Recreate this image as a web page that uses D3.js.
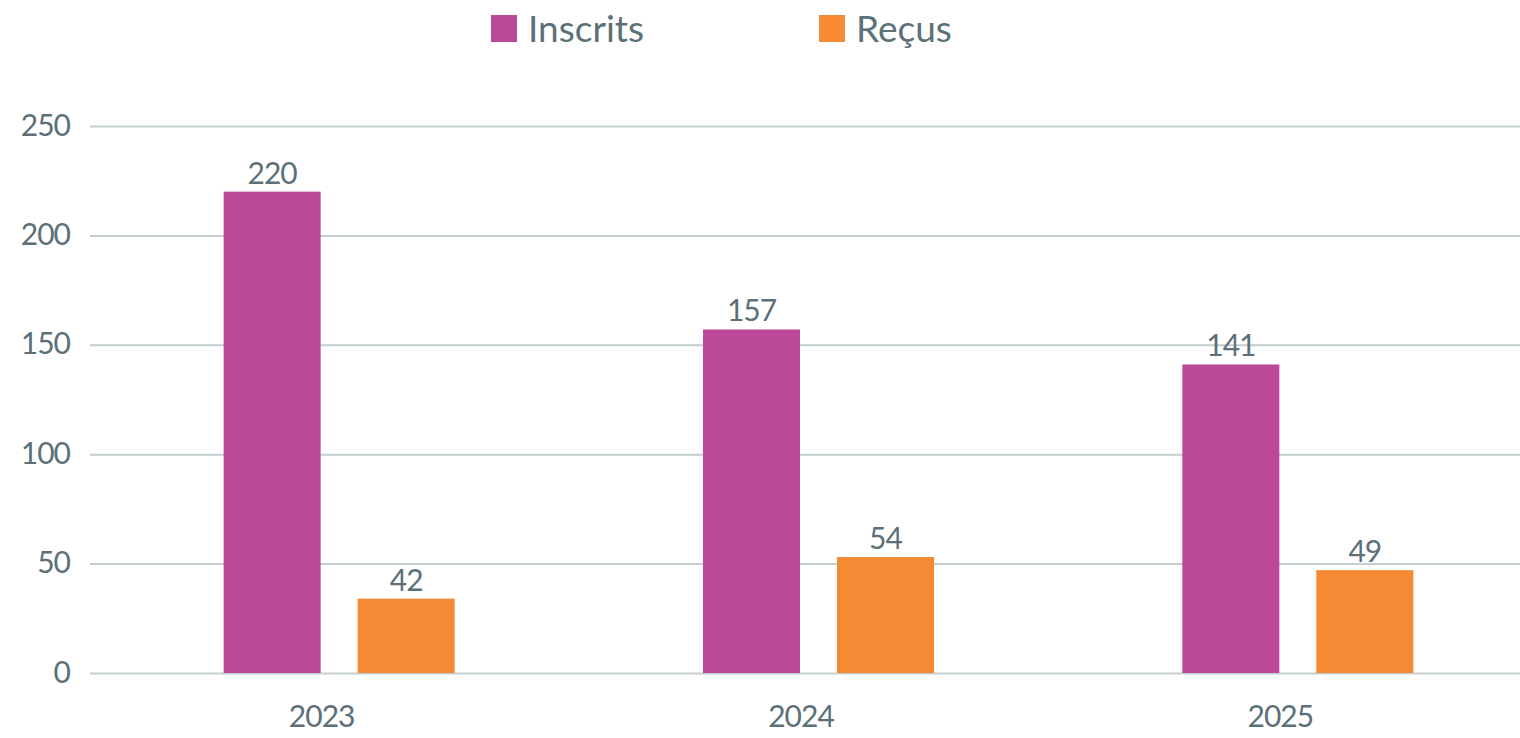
<!DOCTYPE html>
<html>
<head>
<meta charset="utf-8">
<script src="https://cdn.jsdelivr.net/npm/d3@7"></script>
<style>
  body { margin: 0; background: #fff; }
  svg { display: block; font-family: Lato, "Open Sans", sans-serif; }
</style>
</head>
<body>
<svg width="1520" height="738"></svg>
<script>
// data
const years = ["2023", "2024", "2025"];
const series = ["Inscrits", "Reçus"];
const inscrits = [220, 157, 141];
const recus = [34, 53, 47]; // bar heights as drawn
const inscritsLabels = ["220", "157", "141"];
const recusLabels = ["42", "54", "49"];
const yTicks = [0, 50, 100, 150, 200, 250];

const colors = { "Inscrits": "#bb4899", "Reçus": "#f48a33" };
const textColor = "#5b7078";
const gridColor = "#c4cdd0";

const svg = d3.select("svg");

// scales
const x0 = d3.scaleBand().domain(years).range([82, 1520]);
const x1 = d3.scaleBand().domain(series).range([-98, 133]).paddingInner(0.276);
const y = d3.scaleLinear().domain([0, 250]).range([673, 126]);

// gridlines + y labels
const yAxis = d3.axisLeft(y).tickValues(yTicks).tickSize(-1430).tickPadding(20);
svg.append("g")
  .attr("transform", "translate(90,0)")
  .call(yAxis)
  .call((g) => g.select(".domain").remove())
  .call((g) => g.selectAll("line").attr("stroke", gridColor).attr("stroke-width", 2))
  .call((g) => g.selectAll("text")
    .attr("fill", textColor)
    .style("font-size", "30px")
    .style("font-family", "Lato, sans-serif")
    .attr("letter-spacing", "-1")
    .attr("dy", "0.3em"));

// x labels
const xAxis = d3.axisBottom(x0).tickSize(0).tickPadding(33);
svg.append("g")
  .attr("transform", "translate(0,673)")
  .call(xAxis)
  .call((g) => g.select(".domain").remove())
  .call((g) => g.selectAll("text")
    .attr("fill", textColor)
    .style("font-size", "30px")
    .style("font-family", "Lato, sans-serif")
    .attr("letter-spacing", "-1"));

// bars
const rows = years.map((yr, i) => ({
  year: yr,
  values: [
    { key: "Inscrits", value: inscrits[i], label: inscritsLabels[i] },
    { key: "Reçus", value: recus[i], label: recusLabels[i] },
  ],
}));

const groups = svg.selectAll(".grp")
  .data(rows)
  .enter()
  .append("g")
  .attr("class", "grp")
  .attr("transform", (d) => "translate(" + (x0(d.year) + x0.bandwidth() / 2) + ",0)");

groups.selectAll("rect")
  .data((d) => d.values)
  .enter()
  .append("rect")
  .attr("x", (d) => x1(d.key))
  .attr("y", (d) => y(d.value))
  .attr("width", x1.bandwidth())
  .attr("height", (d) => y(0) - y(d.value))
  .attr("fill", (d) => colors[d.key]);

groups.selectAll(".lbl")
  .data((d) => d.values)
  .enter()
  .append("text")
  .attr("class", "lbl")
  .attr("x", (d) => x1(d.key) + x1.bandwidth() / 2)
  .attr("y", (d) => y(d.value) - 8)
  .attr("text-anchor", "middle")
  .attr("fill", textColor)
  .attr("letter-spacing", "-1")
  .style("font-size", "30px")
  .text((d) => d.label);

// legend
const legendX = d3.scaleOrdinal().domain(series).range([491, 819]);
const legend = svg.selectAll(".leg")
  .data(series)
  .enter()
  .append("g")
  .attr("class", "leg")
  .attr("transform", (d) => "translate(" + legendX(d) + ",15)");

legend.append("rect")
  .attr("width", 26)
  .attr("height", 27)
  .attr("fill", (d) => colors[d]);

legend.append("text")
  .attr("x", 37)
  .attr("y", 27)
  .attr("fill", textColor)
  .style("font-size", "37px")
  .text((d) => d);
</script>
</body>
</html>
